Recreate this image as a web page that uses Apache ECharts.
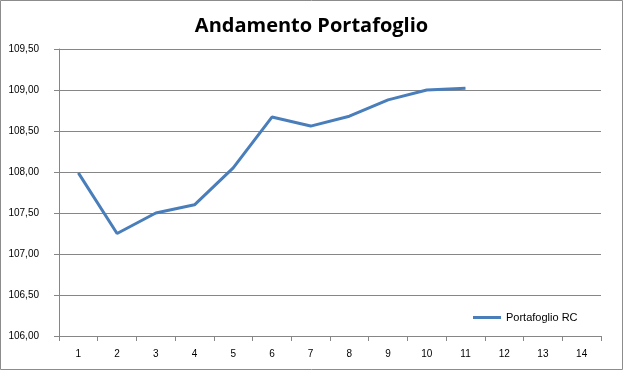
<!DOCTYPE html>
<html>
<head>
<meta charset="utf-8">
<script src="https://cdn.jsdelivr.net/npm/echarts@6/dist/echarts.min.js"></script>
<style>
html,body{margin:0;padding:0;background:#fff;}
#c{width:623px;height:370px;}
</style>
</head>
<body>
<div id="c"></div>
<script>
var categories = ['1','2','3','4','5','6','7','8','9','10','11','12','13','14'];
var seriesName = 'Portafoglio RC';
var values = [107.99, 107.25, 107.50, 107.60, 108.05, 108.67, 108.56, 108.68, 108.88, 109.00, 109.02];
var yMin = 106, yMax = 109.5, yStep = 0.5;

var chart = echarts.init(document.getElementById('c'), null, {renderer:'canvas'});
chart.setOption({
  animation:false,
  backgroundColor:'#fff',
  title:{
    text:'Andamento Portafoglio',
    left:'center', top:11,
    textStyle:{fontFamily:'Open Sans', fontWeight:'bold', fontSize:20, color:'#000'}
  },
  graphic:[{type:'rect', shape:{x:0.5,y:0.5,width:622,height:369}, style:{fill:'none', stroke:'#8c8c8c', lineWidth:1}, silent:true}],
  grid:{left:59, right:22, top:49, bottom:34},
  legend:{
    data:[seriesName],
    left:468, top:307,
    icon:'rect', itemWidth:28, itemHeight:3, itemGap:4,
    textStyle:{fontFamily:'Liberation Sans', fontSize:11, color:'#000'}
  },
  xAxis:{
    type:'category', data:categories, boundaryGap:true,
    axisLine:{lineStyle:{color:'#868686'}},
    axisTick:{show:true, length:5, lineStyle:{color:'#868686'}},
    axisLabel:{margin:13, fontFamily:'Liberation Sans', fontSize:10, color:'#000'},
    splitLine:{show:false}
  },
  yAxis:{
    type:'value', min:yMin, max:yMax, interval:yStep,
    axisLine:{show:true, lineStyle:{color:'#868686'}},
    axisTick:{show:true, length:5, lineStyle:{color:'#868686'}},
    axisLabel:{margin:20, fontFamily:'Liberation Sans', fontSize:10, color:'#000',
      formatter:function(v){return v.toFixed(2).replace('.',',');}},
    splitLine:{show:true, lineStyle:{color:'#868686', width:1}}
  },
  series:[{
    name:seriesName, type:'line', data:values, showSymbol:false, symbol:'none',
    lineStyle:{color:'#4a7ebb', width:3}, itemStyle:{color:'#4a7ebb'}
  }]
});
</script>
</body>
</html>
